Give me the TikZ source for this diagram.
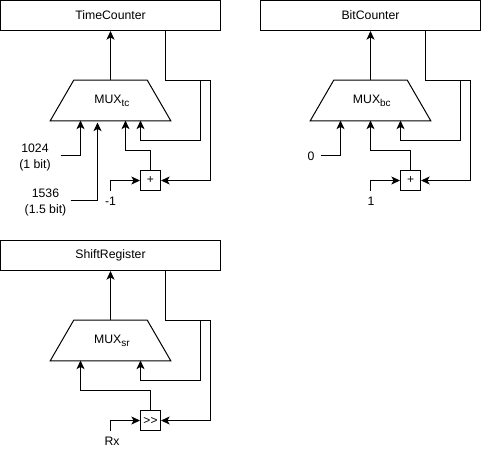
\documentclass[tikz,border=0pt]{standalone}
\usepackage{fontspec}
\setmainfont{Liberation Sans}
\usetikzlibrary{arrows.meta}
\newcommand{\muxshape}[1]{\draw[line width=0.75pt,line join=miter] (#1.south west) -- ([xshift=17.6pt]#1.north west) -- ([xshift=-17.6pt]#1.north east) -- (#1.south east) -- cycle;}
\newcommand{\subt}[1]{\raisebox{-2.2pt}{\fontsize{7.5}{9}\selectfont #1}}
\newcommand{\dnt}[1]{\raisebox{-0.7pt}{#1}}
\tikzset{
  wire/.style={line width=0.75pt,line join=miter},
  arr/.style={wire,-{Stealth[length=6.5pt,width=6pt,inset=1.7pt]}},
  reg/.style={draw,line width=0.75pt,minimum width=165pt,minimum height=22.5pt,inner sep=0pt,font=\fontsize{9.2}{11}\selectfont},
  mux/.style={minimum width=90pt,minimum height=30pt,inner sep=0pt,font=\fontsize{9.2}{11}\selectfont},
  opbox/.style={draw,line width=0.75pt,minimum width=15pt,minimum height=15pt,inner sep=0pt,font=\fontsize{9}{9}\selectfont},
  lab/.style={inner sep=0pt,align=center,font=\fontsize{9.2}{12}\selectfont},
}
\begin{document}
\begin{tikzpicture}[x=0.75pt,y=-0.75pt]
\useasboundingbox (0,0) rectangle (481,451);
% --- TimeCounter
\node[reg] (tc) at (110.5,15.5) {\dnt{TimeCounter}};
\node[mux] (mtc) at (110.5,100.5) {\rule{2pt}{0pt}\dnt{MUX\subt{tc}}};
\muxshape{mtc}
\node[opbox] (ptc) at (150.5,180.5) {+};
\node[lab] (l1024) at (35,157) {1024\\(1 bit)};
\node[lab] (l1536) at (45.5,202) {1536\\(1.5 bit)};
\node[lab] (lm1) at (110.5,201) {-1};
\coordinate (tcj) at (200.5,80.5);
\coordinate (tcs) at (165.5,30.5);
\coordinate (tce) at (210.5,80.5);
\coordinate (a1) at (60.5,155.5);
\coordinate (a2) at (70.5,200.5);
\coordinate (a3) at (110.5,190.5);
\coordinate (i1) at (80.5,120.5);
\coordinate (i2) at (97.5,122.5);
\coordinate (i3) at (125.5,120.5);
\coordinate (i4) at (140.5,120.5);
\draw[arr] (mtc.north) -- (tc.south);
\draw[wire] (tcs) |- (tce);
\draw[arr] (tce) -- (210.5,180.5) -- (ptc.east);
\draw[arr] (tcj) -- (200.5,140.5) -| (i4);
\draw[arr] (a1) -| (i1);
\draw[arr] (a2) -| (i2);
\draw[arr] (ptc.north) -- (150.5,150.5) -| (i3);
\draw[arr] (a3) |- (ptc.west);
% --- BitCounter
\node[reg] (bc) at (370.5,15.5) {\dnt{BitCounter}};
\node[mux] (mbc) at (370.5,100.5) {\rule{2pt}{0pt}\dnt{MUX\subt{bc}}};
\muxshape{mbc}
\node[opbox] (pbc) at (410.5,180.5) {+};
\node[lab] (l0) at (311,156) {0};
\node[lab] (lp1) at (371,201) {1};
\coordinate (bcj) at (460.5,80.5);
\coordinate (bcs) at (425.5,30.5);
\coordinate (bce) at (470.5,80.5);
\coordinate (b1) at (320.5,155.5);
\coordinate (b3) at (370.5,190.5);
\coordinate (k1) at (340.5,120.5);
\coordinate (k2) at (370.5,120.5);
\coordinate (k3) at (400.5,120.5);
\draw[arr] (mbc.north) -- (bc.south);
\draw[wire] (bcs) |- (bce);
\draw[arr] (bce) -- (470.5,180.5) -- (pbc.east);
\draw[arr] (bcj) -- (460.5,140.5) -| (k3);
\draw[arr] (b1) -| (k1);
\draw[arr] (pbc.north) -- (410.5,150.5) -| (k2);
\draw[arr] (b3) |- (pbc.west);
% --- ShiftRegister
\node[reg] (sr) at (110.5,255.5) {\dnt{ShiftRegister}};
\node[mux] (msr) at (110.5,340.5) {\rule{2pt}{0pt}\dnt{MUX\subt{sr}}};
\muxshape{msr}
\node[opbox] (ssr) at (150.5,420.5) {{>}{>}};
\node[lab] (lrx) at (112,441.5) {Rx};
\coordinate (srj) at (200.5,320.5);
\coordinate (srs) at (165.5,270.5);
\coordinate (sre) at (210.5,320.5);
\coordinate (c3) at (110.5,430.5);
\coordinate (j1) at (80.5,360.5);
\coordinate (j2) at (140.5,360.5);
\draw[arr] (msr.north) -- (sr.south);
\draw[wire] (srs) |- (sre);
\draw[arr] (sre) -- (210.5,420.5) -- (ssr.east);
\draw[arr] (srj) -- (200.5,380.5) -| (j2);
\draw[arr] (ssr.north) -- (150.5,390.5) -| (j1);
\draw[arr] (c3) |- (ssr.west);
\end{tikzpicture}
\end{document}
